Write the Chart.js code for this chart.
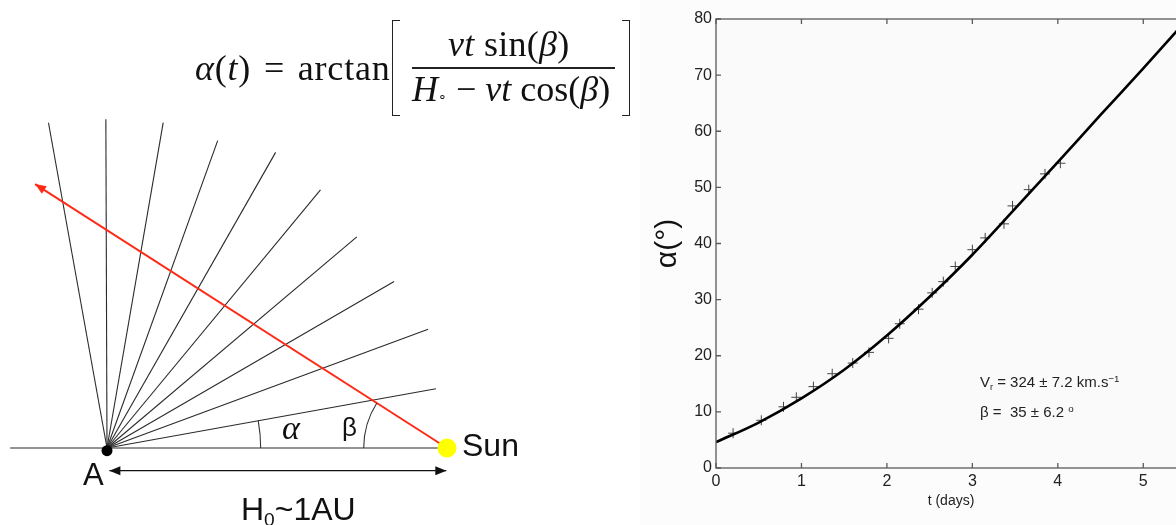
<!DOCTYPE html>
<html>
<head>
<meta charset="utf-8">
<script src="https://cdn.jsdelivr.net/npm/chart.js@4.4.1/dist/chart.umd.min.js"></script>
<style>
html, body { margin: 0; padding: 0; background: #fff; overflow: hidden; }
#wrap { position: relative; width: 1176px; height: 525px; overflow: hidden; }
canvas { position: absolute; top: 0; }
#diagram { left: 0; }
#plot { left: 640px; }
.t { position: absolute; white-space: nowrap; line-height: 1; color: #111; }
.serif { font-family: 'Liberation Serif', 'Times New Roman', serif; font-size: 36px; }
.sans { font-family: 'Liberation Sans', Arial, sans-serif; }
.lo { position: relative; top: 0.3em; font-size: 0.6em; }
.hi { position: relative; top: -0.55em; font-size: 0.65em; }
.rule { position: absolute; height: 1.5px; background: #222; }
.brk { position: absolute; top: 20px; width: 7px; height: 94px; border: 1.6px solid #222; }
.brk.l { border-right: none; }
.brk.r { border-left: none; }
.note { font-size: 15px; color: #222; }
</style>
</head>
<body>
<div id="wrap">
  <canvas id="diagram" width="640" height="525"></canvas>
  <canvas id="plot" width="580" height="525"></canvas>

  <!-- formula -->
  <div class="t serif" style="left:195px;top:50px;word-spacing:3px;letter-spacing:0.8px"><i>α</i>(<i>t</i>) = arctan</div>
  <div class="t serif" style="left:448px;top:26px;letter-spacing:0.3px"><i>vt</i> sin(<i>β</i>)</div>
  <div class="rule" style="left:412px;top:67px;width:203px"></div>
  <div class="t serif" style="left:412px;top:71px"><i>H</i><span style="font-size:14px">∘</span> − <i>vt</i> cos(<i>β</i>)</div>
  <div class="brk l" style="left:392px"></div>
  <div class="brk r" style="left:622px"></div>

  <!-- diagram labels -->
  <div class="t sans" style="left:83px;top:459px;font-size:31px">A</div>
  <div class="t sans" style="left:462px;top:429px;font-size:32px">Sun</div>
  <div class="t sans" style="left:342px;top:414px;font-size:26px">β</div>
  <div class="t serif" style="left:282px;top:411px;font-size:34px"><i>α</i></div>
  <div class="t sans" style="left:241px;top:493px;font-size:32px">H<span class="lo">0</span>~1AU</div>

  <!-- fit result -->
  <div class="t sans note" style="left:980px;top:374px">V<span class="lo">r</span> = 324 ± 7.2 km.s<span class="hi">−1</span></div>
  <div class="t sans note" style="left:980px;top:404px">β =&nbsp; 35 ± 6.2 <span class="hi">o</span></div>
</div>

<script>
// -------- Diagram data (AU, degrees from the A-Sun line) --------
const fanAngles = [100.2, 90.2, 80.2, 70.2, 60.3, 50.4, 40.2, 30.1, 20.3, 10.2];
const fanLengths = [0.972, 0.967, 0.971, 0.961, 1.001, 0.985, 0.962, 0.976, 1.007, 0.983];
const sunDistance = 1;          // H0 ~ 1 AU
const cmeAngle = 147.35;        // red arrow direction, seen from the Sun
const cmeLength = 1.439;
const baseLine = [-0.285, 1];   // x range of the A-Sun line
const spanArrow = [0.007, 0.998, -0.0668];  // x from, x to, y
const alphaArc = [0.452, 0, 10.2];          // radius, from, to
const betaArc = [0.245, cmeAngle, 180];

// -------- Plot data --------
const curveT = [0, 0.5, 1, 1.5, 2, 2.5, 3, 3.5, 4, 4.5, 5, 5.5];
const curveAlpha = [4.6, 8.1, 12.4, 17.5, 23.6, 30.5, 38.0, 46.2, 54.5, 62.9, 71.2, 79.7];
const obsT = [0.20, 0.53, 0.79, 0.94, 1.14, 1.36, 1.60, 1.79, 2.02, 2.15, 2.37,
              2.53, 2.66, 2.80, 3.00, 3.15, 3.37, 3.47, 3.66, 3.85, 4.03];
const obsAlpha = [6.2, 8.5, 10.9, 12.6, 14.5, 16.8, 18.7, 20.6, 23.1, 25.7, 28.3,
                  31.2, 33.2, 35.9, 38.9, 41.0, 43.5, 46.7, 49.6, 52.4, 54.3];
const xLimits = [0, 5.5];
const yLimits = [0, 80];


// -------- Helpers --------
const rad = d => d * Math.PI / 180;
const polar = (cx, cy, r, a) => ({ x: cx + r * Math.cos(rad(a)), y: cy + r * Math.sin(rad(a)) });

function drawHead(ctx, from, tip, color) {
    const ang = Math.atan2(tip.y - from.y, tip.x - from.x);
    const len = 11, half = 4.5;
    ctx.save();
    ctx.translate(tip.x, tip.y);
    ctx.rotate(ang);
    ctx.fillStyle = color;
    ctx.beginPath();
    ctx.moveTo(0, 0);
    ctx.lineTo(-len, -half);
    ctx.lineTo(-len, half);
    ctx.closePath();
    ctx.fill();
    ctx.restore();
}

const diagramExtras = {
    id: 'diagramExtras',
    afterDatasetsDraw(chart) {
        const { ctx, scales: { x, y } } = chart;

        chart.data.datasets.forEach((ds, i) => {
            if (!ds.arrowHeads) return;
            const pts = chart.getDatasetMeta(i).data;
            ds.arrowHeads.forEach(end => {
                if (end === 'end') drawHead(ctx, pts[pts.length - 2], pts[pts.length - 1], ds.borderColor);
                else drawHead(ctx, pts[1], pts[0], ds.borderColor);
            });
        });

        const arc = (cx, arcDef) => {
            const [r, a0, a1] = arcDef;
            const px = x.getPixelForValue(cx), py = y.getPixelForValue(0);
            const pr = x.getPixelForValue(cx + r) - px;
            ctx.save();
            ctx.strokeStyle = '#333';
            ctx.lineWidth = 1.1;
            ctx.beginPath();
            ctx.arc(px, py, pr, -rad(a1), -rad(a0));
            ctx.stroke();
            ctx.restore();
        };
        arc(0, alphaArc);
        arc(sunDistance, betaArc);
    }
};


// -------- Diagram --------
const segment = (p, q, color, width, order, extra) => Object.assign({
    data: [p, q], showLine: true, borderColor: color, borderWidth: width,
    pointRadius: 0, order: order, clip: false
}, extra || {});

const diagramSets = [];

diagramSets.push({
    data: [{ x: 0, y: -0.008 }, { x: sunDistance, y: 0 }],
    showLine: false,
    pointRadius: [5.5, 9.5],
    backgroundColor: ['#000', '#ffff00'],
    borderWidth: 0,
    order: 0,
    clip: false
});

diagramSets.push(segment({ x: sunDistance, y: 0 }, polar(sunDistance, 0, cmeLength, cmeAngle),
    '#ff2a16', 2, 1, { arrowHeads: ['end'] }));

fanAngles.forEach((a, i) => {
    diagramSets.push(segment({ x: 0, y: 0 }, polar(0, 0, fanLengths[i], a), '#2a2a2a', 1.1, 2));
});

diagramSets.push(segment({ x: baseLine[0], y: 0 }, { x: baseLine[1], y: 0 }, '#2a2a2a', 1.2, 3));

diagramSets.push(segment({ x: spanArrow[0], y: spanArrow[2] }, { x: spanArrow[1], y: spanArrow[2] },
    '#111', 1.3, 3, { arrowHeads: ['start', 'end'] }));

new Chart(document.getElementById('diagram'), {
    type: 'scatter',
    data: { datasets: diagramSets },
    options: {
        responsive: false,
        animation: false,
        events: [],
        layout: { padding: 0, autoPadding: false },
        plugins: { legend: { display: false }, tooltip: { enabled: false } },
        scales: {
            x: { type: 'linear', display: false, min: -107 / 340, max: 533 / 340 },
            y: { type: 'linear', display: false, min: -77 / 340, max: 448 / 340 }
        }
    },
    plugins: [diagramExtras]
});


// -------- Plot --------
const frame = {
    id: 'frame',
    beforeDraw(chart) {
        const { ctx, chartArea: a } = chart;
        ctx.save();
        ctx.fillStyle = '#fcfcfc';
        ctx.fillRect(0, 0, chart.width, chart.height);
        ctx.fillStyle = '#fafafa';
        ctx.fillRect(a.left, a.top, a.width, a.height);
        ctx.restore();
    },
    afterDatasetsDraw(chart) {
        const { ctx, chartArea: a, scales: { x, y } } = chart;
        ctx.save();
        ctx.strokeStyle = '#5a5a5a';
        ctx.lineWidth = 1.3;
        ctx.strokeRect(a.left, a.top, a.width, a.height);
        ctx.beginPath();
        x.ticks.forEach(t => {
            const px = x.getPixelForValue(t.value);
            ctx.moveTo(px, a.bottom); ctx.lineTo(px, a.bottom - 5);
            ctx.moveTo(px, a.top); ctx.lineTo(px, a.top + 5);
        });
        y.ticks.forEach(t => {
            const py = y.getPixelForValue(t.value);
            ctx.moveTo(a.left, py); ctx.lineTo(a.left + 5, py);
            ctx.moveTo(a.right, py); ctx.lineTo(a.right - 5, py);
        });
        ctx.stroke();
        ctx.restore();
    }
};

const tickFont = { family: "'Liberation Sans', Arial, sans-serif", size: 16 };

new Chart(document.getElementById('plot'), {
    type: 'scatter',
    data: {
        datasets: [
            {
                data: curveT.map((t, i) => ({ x: t, y: curveAlpha[i] })),
                showLine: true,
                borderColor: '#000',
                borderWidth: 2.6,
                pointRadius: 0,
                cubicInterpolationMode: 'monotone'
            },
            {
                data: obsT.map((t, i) => ({ x: t, y: obsAlpha[i] })),
                showLine: false,
                pointStyle: 'cross',
                pointRadius: 5,
                borderColor: '#444',
                borderWidth: 1
            }
        ]
    },
    options: {
        responsive: false,
        animation: false,
        events: [],
        layout: { padding: { top: 19, right: 34, left: 0, bottom: 0 }, autoPadding: false },
        plugins: { legend: { display: false }, tooltip: { enabled: false } },
        scales: {
            x: {
                type: 'linear',
                min: xLimits[0], max: xLimits[1],
                grid: { display: false, drawTicks: false },
                border: { display: false },
                ticks: { stepSize: 1, includeBounds: false, font: tickFont, color: '#222', padding: 4, maxRotation: 0 },
                title: {
                    display: true, text: 't (days)', color: '#222',
                    font: { family: "'Liberation Sans', Arial, sans-serif", size: 14 },
                    padding: { top: 0, bottom: 15 }
                },
                afterFit: s => { s.height = 57; }
            },
            y: {
                min: yLimits[0], max: yLimits[1],
                grid: { display: false, drawTicks: false },
                border: { display: false },
                ticks: { stepSize: 10, font: tickFont, color: '#222', padding: 4 },
                title: {
                    display: true, text: 'α(°)', color: '#111',
                    font: { family: "'Liberation Sans', Arial, sans-serif", size: 30, lineHeight: 1 },
                    padding: { top: 13, bottom: 0 }
                },
                afterFit: s => { s.width = 76; }
            }
        }
    },
    plugins: [frame]
});
</script>
</body>
</html>
